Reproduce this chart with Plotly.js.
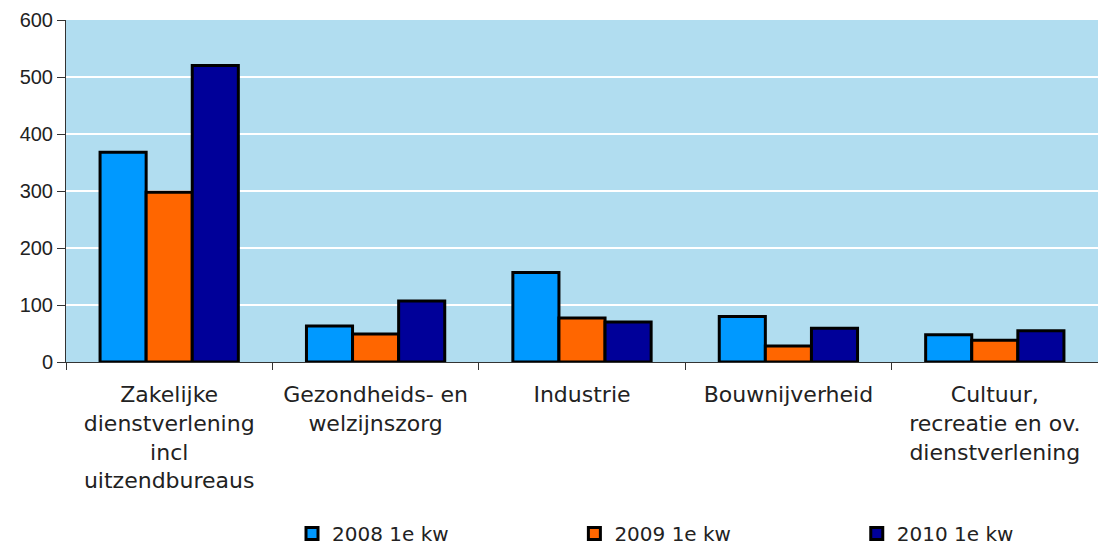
<!DOCTYPE html>
<html>
<head>
<meta charset="utf-8">
<script src="https://cdn.plot.ly/plotly-3.0.1.min.js"></script>
<style>html,body{margin:0;padding:0;background:#fff;}#chart{width:1098px;height:546px;}</style>
</head>
<body>
<div id="chart"></div>
<script>
const categories = [
  "Zakelijke<br>dienstverlening<br>incl<br>uitzendbureaus",
  "Gezondheids- en<br>welzijnszorg",
  "Industrie",
  "Bouwnijverheid",
  "Cultuur,<br>recreatie en ov.<br>dienstverlening"
];
const seriesNames = ["2008 1e kw", "2009 1e kw", "2010 1e kw"];
const values2008 = [368, 63, 157, 80, 48];
const values2009 = [298, 49, 77, 28, 38];
const values2010 = [520, 107, 70, 59, 55];
const colors = ["#0099ff", "#ff6600", "#000099"];

const allValues = [values2008, values2009, values2010];
const pad = "\u00a0".repeat(19);
const traces = allValues.map((v, i) => ({
  type: "bar",
  name: seriesNames[i] + (i < allValues.length - 1 ? pad : ""),
  x: categories,
  y: v,
  marker: {color: colors[i], line: {color: "#000", width: 3}},
  hoverinfo: "skip"
}));

const layout = {
  width: 1098, height: 546,
  margin: {l: 66, r: 0, t: 20, b: 184},
  paper_bgcolor: "#fff",
  plot_bgcolor: "#b1ddf0",
  barmode: "group",
  bargap: 0.33,
  bargroupgap: 0,
  showlegend: true,
  legend: {
    orientation: "h", x: 0.219, xanchor: "left",
    y: 0.023, yanchor: "middle", yref: "container",
    font: {family: "DejaVu Sans", size: 20, color: "#222"},
    itemwidth: 30,
    tracegroupgap: 0
  },
  xaxis: {
    type: "category",
    tickson: "boundaries",
    ticks: "outside", ticklen: 7, tickcolor: "#333",
    showline: true, linecolor: "#333", linewidth: 1,
    showgrid: false,
    ticklabelstandoff: 13,
    tickfont: {family: "DejaVu Sans", size: 22, color: "#222"},
    automargin: false
  },
  yaxis: {
    range: [0, 600],
    tickvals: [0, 100, 200, 300, 400, 500, 600],
    ticks: "outside", ticklen: 8, tickcolor: "#333",
    showline: true, linecolor: "#333", linewidth: 1,
    gridcolor: "#ffffff", gridwidth: 1.5,
    zeroline: false,
    tickfont: {family: "Liberation Sans", size: 20, color: "#222"},
    automargin: false
  }
};

Plotly.newPlot("chart", traces, layout, {staticPlot: true, displayModeBar: false});
</script>
</body>
</html>
